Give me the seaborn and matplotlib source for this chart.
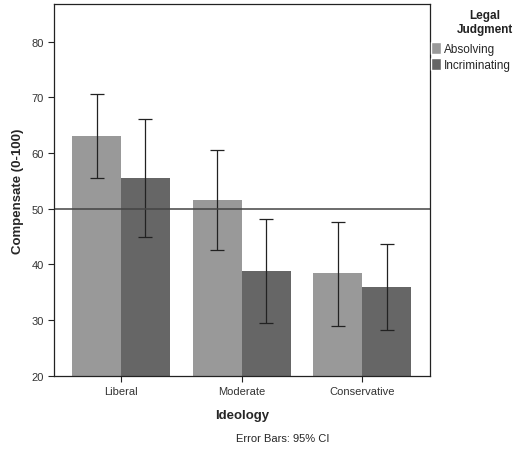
import numpy as np
import pandas as pd
import matplotlib
matplotlib.use('Agg')
import matplotlib.pyplot as plt
import seaborn as sns
from matplotlib.patches import Patch

# values
ideology = ['Liberal', 'Moderate', 'Conservative']
judgments = ['Absolving', 'Incriminating']
absolving_mean = [63.1, 51.6, 38.4]
absolving_lo = [55.5, 42.6, 29.0]
absolving_hi = [70.7, 60.5, 47.7]
incrim_mean = [55.6, 38.8, 36.0]
incrim_lo = [45.0, 29.4, 28.3]
incrim_hi = [66.2, 48.1, 43.6]

sns.set_style('white')
plt.rcParams['font.family'] = ['Liberation Sans', 'DejaVu Sans']

df = pd.DataFrame({
    'Ideology': ideology * 2,
    'Legal Judgment': [judgments[0]] * 3 + [judgments[1]] * 3,
    'Compensate': absolving_mean + incrim_mean,
})

fig = plt.figure(figsize=(5.17, 4.52), dpi=100)
ax = fig.add_axes([0.1045, 0.1666, 0.727, 0.8224])

sns.barplot(data=df, x='Ideology', y='Compensate', hue='Legal Judgment',
            order=ideology, hue_order=judgments,
            palette=['#999999', '#666666'], errorbar=None,
            width=0.81, saturation=1, linewidth=0, ax=ax, legend=False)

# 95% CI error bars
for i, (m, lo, hi) in enumerate([(absolving_mean, absolving_lo, absolving_hi),
                                 (incrim_mean, incrim_lo, incrim_hi)]):
    xs = np.arange(len(ideology)) + (i - 0.5) * 0.405
    ax.errorbar(xs, m, yerr=[np.array(m) - np.array(lo), np.array(hi) - np.array(m)],
                fmt='none', ecolor='#222222', elinewidth=0.9, capsize=5, capthick=0.9)

ax.axhline(50, color='#444444', linewidth=1.1)

ax.set_xlim(-0.555, 2.56)
ax.set_ylim(20, 86.8)
ax.set_yticks([20, 30, 40, 50, 60, 70, 80])
ax.tick_params(axis='both', direction='out', length=4, width=0.8,
               labelsize=8, colors='#222222', labelcolor='#333333',
               bottom=True, left=True)
for s in ax.spines.values():
    s.set_color('#222222')
    s.set_linewidth(0.9)

ax.set_xlabel('Ideology', fontsize=9.5, fontweight='bold', labelpad=9)
ax.set_ylabel('Compensate (0-100)', fontsize=9.5, fontweight='bold', labelpad=5)

# legend: title drawn separately so it can sit centred over the labels
fig.text(0.938, 0.978, 'Legal\nJudgment', fontsize=8.5, fontweight='bold',
         ha='center', va='top', multialignment='center', color='#222222')
handles = [Patch(facecolor='#999999'), Patch(facecolor='#666666')]
leg = fig.legend(handles, judgments, loc='upper left',
                 bbox_to_anchor=(0.832, 0.908),
                 frameon=False, fontsize=8.5,
                 handlelength=0.85, handleheight=1.2, handletextpad=0.2,
                 borderaxespad=0, borderpad=0.1, labelspacing=0.3)

fig.text(0.547, 0.017, 'Error Bars: 95% CI', fontsize=8, ha='center', va='bottom')

fig.savefig('out.png', dpi=100)
